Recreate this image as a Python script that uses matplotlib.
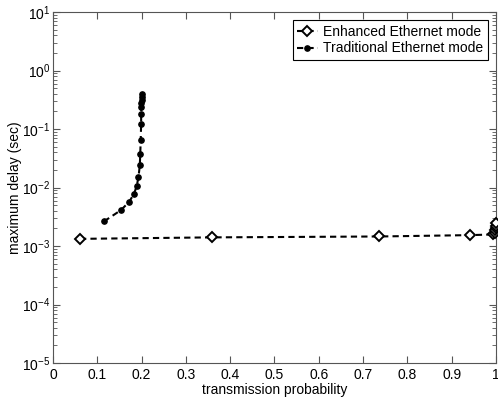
import matplotlib
matplotlib.use('Agg')
import matplotlib.pyplot as plt
from matplotlib.ticker import LogLocator
from matplotlib.legend_handler import HandlerLine2D

plt.rcParams['font.family'] = ['Liberation Sans', 'DejaVu Sans']
plt.rcParams['mathtext.fontset'] = 'custom'
plt.rcParams['mathtext.rm'] = 'Liberation Sans'
plt.rcParams['mathtext.it'] = 'Liberation Sans'

# Enhanced Ethernet mode (p, delay in sec)
enh_p = [0.061, 0.36, 0.735, 0.941, 0.994, 0.997, 0.998, 0.999, 0.9995, 1.0]
enh_d = [1.33e-3, 1.41e-3, 1.46e-3, 1.54e-3, 1.58e-3, 1.7e-3, 1.85e-3, 2.0e-3, 2.2e-3, 2.5e-3]

# Traditional Ethernet mode
tra_p = [0.115, 0.153, 0.172, 0.183, 0.189, 0.193, 0.196, 0.197, 0.198,
         0.199, 0.199, 0.1995, 0.1995, 0.2, 0.2, 0.2]
tra_d = [2.64e-3, 4.1e-3, 5.7e-3, 7.9e-3, 1.06e-2, 1.52e-2, 2.41e-2, 3.82e-2,
         6.44e-2, 0.124, 0.184, 0.238, 0.279, 0.318, 0.353, 0.393]


class MarkerFirst(HandlerLine2D):
    # marker at the left end of the legend line, like matlab
    def get_xdata(self, legend, xdescent, ydescent, width, height, fontsize):
        return [-xdescent, -xdescent + width], [-xdescent + 3]


fig = plt.figure(figsize=(4.98, 4.03), dpi=100)
ax = fig.add_axes([0.1064, 0.099, 0.8896, 0.871])

dash = (3, 2)
ax.semilogy(enh_p, enh_d, 'k--', dashes=dash, marker='D', markersize=5,
            markerfacecolor='white', markeredgecolor='black', markeredgewidth=1.4,
            linewidth=1.5, label='Enhanced Ethernet mode', clip_on=False, zorder=3)
ax.semilogy(tra_p, tra_d, 'k--', dashes=dash, marker='o', markersize=3.8,
            markerfacecolor='black', linewidth=1.5,
            label='Traditional Ethernet mode', zorder=3)

ax.set_xlim(0, 1)
ax.set_ylim(1e-5, 1e1)
ax.set_xticks([0, 0.1, 0.2, 0.3, 0.4, 0.5, 0.6, 0.7, 0.8, 0.9, 1])
ax.set_xticklabels(['0', '0.1', '0.2', '0.3', '0.4', '0.5', '0.6', '0.7', '0.8', '0.9', '1'])
ax.yaxis.set_major_locator(LogLocator(base=10, numticks=10))
ax.yaxis.set_minor_locator(LogLocator(base=10, subs=range(2, 10), numticks=20))

ax.tick_params(which='both', direction='in', top=True, right=True, labelsize=10,
               color='#555555')
ax.tick_params(which='major', length=5)
ax.tick_params(which='minor', length=3)
ax.tick_params(axis='y', pad=2)
for s in ax.spines.values():
    s.set_color('#555555')

ax.set_xlabel('transmission probability', fontsize=10, labelpad=1)
ax.set_ylabel('maximum delay (sec)', fontsize=10, labelpad=0)

leg = ax.legend(loc='upper right', fontsize=10, fancybox=False, framealpha=1,
                edgecolor='black', handlelength=1.5, handletextpad=0.4,
                borderpad=0.3, labelspacing=0.2, borderaxespad=0.6,
                handler_map={plt.Line2D: MarkerFirst()})
leg.get_frame().set_linewidth(0.8)

fig.savefig('out.png', dpi=100)
